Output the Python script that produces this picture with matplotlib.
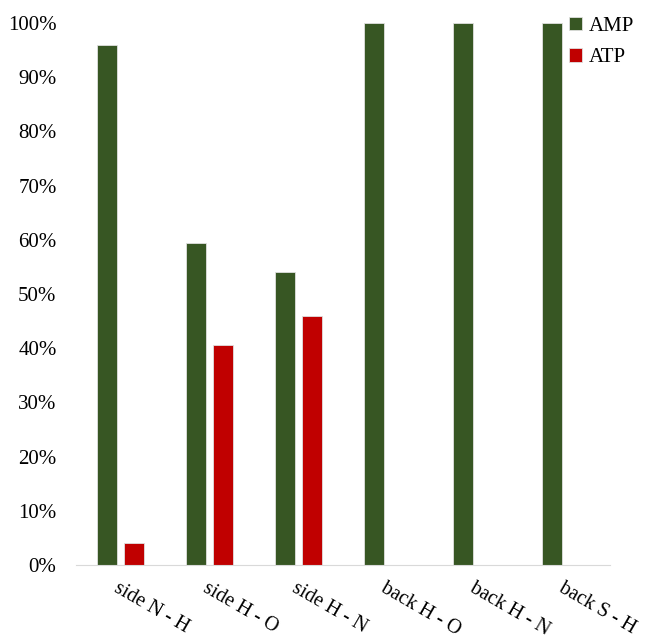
import matplotlib.pyplot as plt
import numpy as np
from matplotlib.ticker import PercentFormatter

categories = ['side N - H', 'side H - O', 'side H - N', 'back H - O', 'back H - N', 'back S - H']
amp = [96, 59.5, 54, 100, 100, 100]
atp = [4, 40.5, 46, 0, 0, 0]

plt.rcParams['font.family'] = ['Liberation Serif', 'DejaVu Serif']
plt.rcParams['font.size'] = 15

fig = plt.figure(figsize=(6.45, 6.39), dpi=100)
ax = fig.add_axes([76 / 645, 74 / 639, 534 / 645, 542 / 639])

x = np.arange(len(categories))
w = 0.23
ax.bar(x - 0.15, amp, w, color='#375623', edgecolor='#e0e0e0', linewidth=0.6, label='AMP')
ax.bar(x + 0.15, atp, w, color='#c00000', edgecolor='#e0e0e0', linewidth=0.6, label='ATP')

ax.set_xlim(-0.5, len(categories) - 0.5)
ax.set_ylim(0, 100)
ax.set_yticks(range(0, 101, 10))
ax.yaxis.set_major_formatter(PercentFormatter(decimals=0))
ax.tick_params(axis='y', length=0, pad=14)
ax.tick_params(axis='x', length=0, pad=10, labelsize=14.5)
ax.set_xticks(x)
ax.set_xticklabels(categories, rotation=-30, ha='left', rotation_mode='anchor')

for s in ['top', 'right', 'left']:
    ax.spines[s].set_visible(False)
ax.spines['bottom'].set_color('#d9d9d9')

fig.legend(loc='upper right', bbox_to_anchor=(645 / 645, 0.99), frameon=False,
           handlelength=0.6, handleheight=0.6, handletextpad=0.35, labelspacing=0.6,
           borderaxespad=0.3, borderpad=0.2)

fig.savefig('out.png', dpi=100)
